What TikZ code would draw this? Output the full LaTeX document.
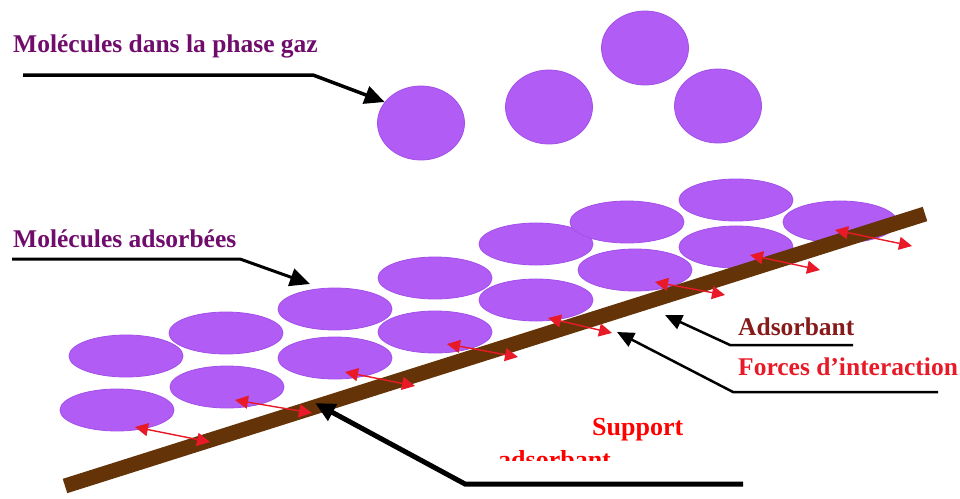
\documentclass[tikz,border=0pt]{standalone}
\usepackage{fontspec}
\setmainfont{Liberation Serif}
\usepackage{tikz}
\usetikzlibrary{positioning,arrows.meta,shapes.geometric}
\definecolor{molpurple}{RGB}{178,92,246}
\definecolor{moledge}{RGB}{162,80,232}
\definecolor{darkviolet}{RGB}{112,12,108}
\definecolor{barbrown}{RGB}{100,52,8}
\definecolor{darkmaroon}{RGB}{135,26,26}
\definecolor{forcered}{RGB}{232,26,40}

\begin{document}
\begin{tikzpicture}[x=1pt,y=-1pt,
  gas/.style={ellipse, fill=molpurple, draw=moledge, line width=0.8pt,
              minimum width=87pt, minimum height=74pt, inner sep=0pt},
  ads/.style={ellipse, fill=molpurple, draw=moledge, line width=0.8pt,
              minimum width=114pt, minimum height=42pt, inner sep=0pt},
  lab/.style={anchor=base west, inner sep=0pt, font=\fontsize{25.5}{30}\selectfont\bfseries},
  ptr/.style={-{Triangle[length=20pt,width=18pt]}, line width=3pt, black},
  force/.style={{Triangle[length=13pt,width=13pt]}-{Triangle[length=13pt,width=13pt]},
                line width=1.4pt, forcered}]
  \useasboundingbox (0,0) rectangle (960,498);

  \node[gas](g1) at (421,123){};
  \node[gas](g2) at (549,107){};
  \node[gas](g3) at (645,48){};
  \node[gas](g4) at (718,106){};

  \node[ads](a1) at (126,356){};
  \node[ads](a2) at (226,333){};
  \node[ads](a3) at (335,309){};
  \node[ads](a4) at (435,278){};
  \node[ads](a5) at (536,244){};
  \node[ads](a6) at (627,222){};
  \node[ads](a7) at (736,200){};
  \node[ads](b1) at (117,410){};
  \node[ads](b2) at (227,387){};
  \node[ads](b3) at (335,358){};
  \node[ads](b4) at (435,332){};
  \node[ads](b5) at (536,300){};
  \node[ads](b6) at (635,270){};
  \node[ads](b7) at (736,247){};
  \node[ads](b8) at (840,222){};

  \coordinate (S1) at (65,486);
  \coordinate (S2) at (925,214);
  \draw[barbrown, line width=15pt] (S1) -- (S2);

  \coordinate (p1) at (135,427); \coordinate (q1) at (210,442);
  \coordinate (p2) at (235,400); \coordinate (q2) at (312,413);
  \coordinate (p3) at (345,372); \coordinate (q3) at (415,386);
  \coordinate (p4) at (447,344); \coordinate (q4) at (518,357);
  \coordinate (p5) at (548,318); \coordinate (q5) at (612,333);
  \coordinate (p6) at (655,282); \coordinate (q6) at (725,295);
  \coordinate (p7) at (750,255); \coordinate (q7) at (820,270);
  \coordinate (p8) at (835,230); \coordinate (q8) at (912,246);
  \draw[force](p1)--(q1);
  \draw[force](p2)--(q2);
  \draw[force](p3)--(q3);
  \draw[force](p4)--(q4);
  \draw[force](p5)--(q5);
  \draw[force](p6)--(q6);
  \draw[force](p7)--(q7);
  \draw[force](p8)--(q8);

  \node[lab, text=darkviolet](gaz) at (13,52){Molécules dans la phase gaz};
  \node[lab, text=darkviolet](adsorbees) at (13,247){Molécules adsorbées};
  \node[lab, text=darkmaroon](adsorbant) at (738,335){Adsorbant};
  \node[lab, text=forcered](forces) at (738,375){Forces d’interaction};
  \node[lab, font=\fontsize{26}{30}\selectfont\bfseries, text=red](support) at (592,435){Support};
  \begin{scope}
    \clip (480,440) rectangle (700,460);
    \node[lab, font=\fontsize{26}{30}\selectfont\bfseries, text=red](supportb) at (498,468){adsorbant};
  \end{scope}

  \coordinate (k1) at (23,75);   \coordinate (k2) at (313,75);
  \coordinate (k3) at (12,259);  \coordinate (k4) at (240,259);  \coordinate (t4) at (310,284);
  \coordinate (k5) at (743,484); \coordinate (k6) at (465,484);  \coordinate (t6) at (315,403);
  \coordinate (k7) at (853,345); \coordinate (k8) at (730,345);  \coordinate (t8) at (665,315);
  \coordinate (k9) at (938,392); \coordinate (k10) at (733,392); \coordinate (t10) at (617,332);
  \draw[ptr, line width=3.5pt](k1)--(k2)--(g1.150);
  \draw[ptr](k3)--(k4)--(t4);
  \draw[ptr, line width=5pt](k5)--(k6)--(t6);
  \draw[ptr, line width=2.5pt, -{Triangle[length=17pt,width=15pt]}](k7)--(k8)--(t8);
  \draw[ptr, line width=2.5pt, -{Triangle[length=17pt,width=15pt]}](k9)--(k10)--(t10);
\end{tikzpicture}
\end{document}
